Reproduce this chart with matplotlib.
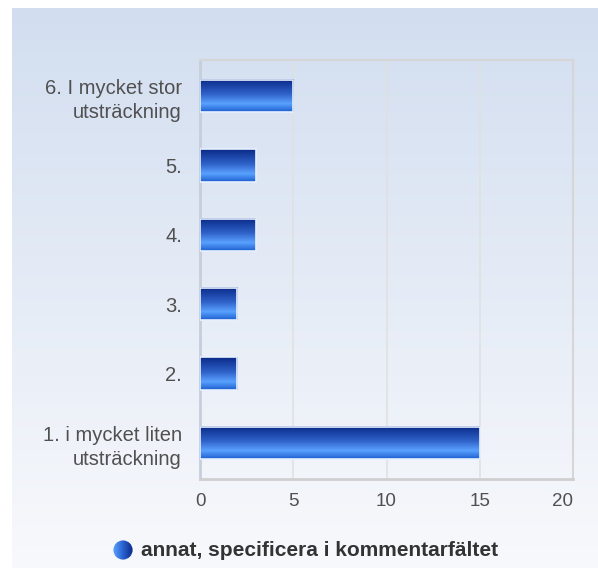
import numpy as np
import matplotlib.pyplot as plt
from matplotlib.colors import LinearSegmentedColormap
from matplotlib.patches import Rectangle, Circle

plt.rcParams['font.family'] = ['Liberation Sans', 'DejaVu Sans']

categories = ["1. i mycket liten\nutsträckning", "2.", "3.", "4.", "5.",
              "6. I mycket stor\nutsträckning"]
values = [15, 2, 2, 3, 3, 5]
xticks = [0, 5, 10, 15, 20]
legend_label = "annat, specificera i kommentarfältet"

fig = plt.figure(figsize=(5.98, 5.68), dpi=100)

# background panel with vertical gradient
bg = fig.add_axes([0, 0, 1, 1], zorder=-10)
bg_cmap = LinearSegmentedColormap.from_list("bg", ["#f8f9fc", "#d2def0"])
bg.imshow(np.linspace(0, 1, 256).reshape(-1, 1), aspect='auto', cmap=bg_cmap,
          origin='lower', extent=[12, 598, 0, 560])
bg.set_xlim(0, 598)
bg.set_ylim(0, 568)
bg.axis('off')

ax = fig.add_axes([200 / 598, 1 - 479 / 568, 373 / 598, 419 / 568])
ax.patch.set_alpha(0)

bar_cmap = LinearSegmentedColormap.from_list(
    "bar", [(0, "#1d5fcf"), (0.25, "#5aa2ff"), (0.55, "#2f62c9"), (1, "#0a2a88")])
grad = np.linspace(0, 1, 64).reshape(-1, 1)
h = 0.47
for i, v in enumerate(values):
    ax.imshow(grad, aspect='auto', cmap=bar_cmap, origin='lower',
              extent=[0, v, i - h / 2, i + h / 2], zorder=3)
    ax.add_patch(Rectangle((0, i - h / 2), v, h, fill=False,
                           edgecolor='#e8f0ff', lw=1.2, zorder=4))

ax.set_xlim(0, 20)
ax.set_ylim(-0.52, 5.52)
ax.set_xticks(xticks)
ax.set_yticks(range(len(categories)))
ax.set_yticklabels(categories, ha='right', multialignment='right', linespacing=1.35)
ax.tick_params(axis='both', length=0, labelcolor='#505050')
ax.tick_params(axis='x', pad=10, labelsize=13.5)
ax.tick_params(axis='y', pad=13, labelsize=14.5)
# last x label sits inside the frame, right-aligned at the edge
ax.get_xticklabels()[-1].set_horizontalalignment('right')
ax.get_xticklabels()[-1].set_x(20.05)
ax.grid(axis='x', color='#e0e0e0', lw=1.1, zorder=0)
ax.set_axisbelow(True)
for s in ['top', 'right']:
    ax.spines[s].set_color('#d6d6d6')
    ax.spines[s].set_linewidth(1.5)
ax.spines['left'].set_color('#c7cedb')
ax.spines['left'].set_linewidth(2)
ax.spines['bottom'].set_color('#cfcfcf')
ax.spines['bottom'].set_linewidth(2)

# legend: gradient circle + bold label
lax = fig.add_axes([113 / 598, 1 - 560 / 568, 20 / 598, 20 / 568])
lax.set_xlim(0, 1)
lax.set_ylim(0, 1)
lax.axis('off')
leg_cmap = LinearSegmentedColormap.from_list("leg", ["#5aa2ff", "#2a62d0", "#0a2a88"])
im = lax.imshow(np.linspace(0, 1, 64).reshape(1, -1), aspect='auto', cmap=leg_cmap,
                extent=[0, 1, 0, 1])
clip = Circle((0.5, 0.5), 0.48, transform=lax.transData)
im.set_clip_path(clip)
fig.text(141 / 598, 1 - 550 / 568, legend_label, fontsize=15, fontweight='bold',
         color='#333333', va='center', ha='left')

fig.savefig("out.png", dpi=100)
